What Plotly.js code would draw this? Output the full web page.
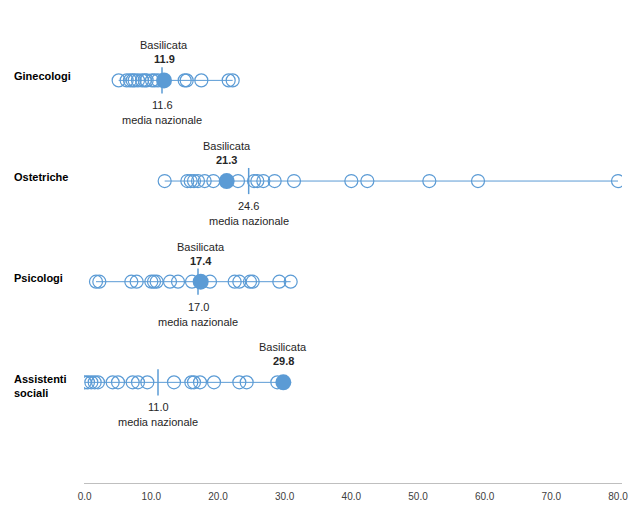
<!DOCTYPE html>
<html>
<head>
<meta charset="utf-8">
<script src="https://cdn.plot.ly/plotly-3.0.1.min.js"></script>
<style>
html,body{margin:0;padding:0;background:#fff;}
#chart{width:638px;height:509px;}
</style>
</head>
<body>
<div id="chart"></div>
<script>
// Categories (top to bottom)
const categories = ["Ginecologi", "Ostetriche", "Psicologi", "Assistenti<br>sociali"];
// Basilicata values
const basilicata = [11.9, 21.3, 17.4, 29.8];
// National averages
const mediaNazionale = [11.6, 24.6, 17.0, 11.0];
// Other regions' values per category
const ginecologi = [5.1, 6.3, 6.8, 7.2, 7.5, 8.0, 8.6, 9.0, 9.3, 10.1, 10.5, 11.0, 15.0, 15.3, 17.5, 21.6, 22.2];
const ostetriche = [12.0, 15.4, 15.9, 16.4, 17.0, 18.0, 19.3, 23.0, 25.4, 25.9, 26.8, 28.5, 31.4, 40.0, 42.4, 51.7, 59.0, 80.0];
const psicologi = [1.7, 2.2, 7.0, 7.8, 10.0, 10.4, 10.8, 12.8, 14.0, 16.1, 18.8, 22.5, 23.2, 24.8, 25.2, 29.2, 30.9];
const assistentiSociali = [0.0, 0.5, 1.0, 1.5, 2.0, 4.2, 5.0, 7.2, 8.0, 9.4, 13.4, 16.0, 16.4, 17.3, 19.4, 23.2, 24.3, 28.9];
const tickVals = [0, 10, 20, 30, 40, 50, 60, 70, 80];

const series = [ginecologi, ostetriche, psicologi, assistentiSociali];
const blue = "#5B9BD5";
const font = "Liberation Sans, Arial, sans-serif";
const nRows = categories.length;
const rowY = categories.map((c, i) => nRows - i);

const traces = [];
const shapes = [];
const annotations = [];

series.forEach((vals, i) => {
  const all = vals.concat([basilicata[i]]).sort((a, b) => a - b);
  traces.push({
    type: "scatter", mode: "lines+markers",
    x: all, y: all.map(() => rowY[i]),
    line: {color: blue, width: 1},
    marker: {symbol: "circle-open", size: 13, color: blue, line: {width: 1.2, color: blue}},
    hoverinfo: "skip", showlegend: false
  });
  shapes.push({
    type: "line", xref: "x", yref: "y",
    x0: mediaNazionale[i], x1: mediaNazionale[i],
    y0: rowY[i] - 0.13, y1: rowY[i] + 0.13,
    line: {color: blue, width: 1.5}
  });
  annotations.push(
    {x: basilicata[i], y: rowY[i], xref: "x", yref: "y", text: "Basilicata", showarrow: false, yshift: 35, font: {family: font, size: 11, color: "#262626"}},
    {x: basilicata[i], y: rowY[i], xref: "x", yref: "y", text: "<b>" + basilicata[i].toFixed(1) + "</b>", showarrow: false, yshift: 21, font: {family: font, size: 11, color: "#262626"}},
    {x: mediaNazionale[i], y: rowY[i], xref: "x", yref: "y", text: mediaNazionale[i].toFixed(1), showarrow: false, yshift: -25, font: {family: font, size: 11, color: "#262626"}},
    {x: mediaNazionale[i], y: rowY[i], xref: "x", yref: "y", text: "media nazionale", showarrow: false, yshift: -40, font: {family: font, size: 11, color: "#262626"}},
    {x: -0.133, y: rowY[i], xref: "paper", yref: "y", xanchor: "left", align: "left", text: "<b>" + categories[i] + "</b>", showarrow: false, yshift: categories[i].includes("<br>") ? -4 : 4, font: {family: font, size: 11, color: "#000"}}
  );
});

traces.push({
  type: "scatter", mode: "markers",
  x: basilicata, y: rowY,
  marker: {symbol: "circle", size: 16, color: blue},
  hoverinfo: "skip", showlegend: false
});

const layout = {
  width: 638, height: 509,
  margin: {l: 84, r: 16, t: 20, b: 26},
  paper_bgcolor: "#fff", plot_bgcolor: "#fff",
  showlegend: false,
  xaxis: {
    range: [-0.1, 80.6], tickvals: tickVals, tickformat: ".1f",
    showgrid: false, zeroline: false, showline: true, linecolor: "#BFBFBF", linewidth: 1,
    ticks: "", ticklabelstandoff: 4, tickfont: {family: font, size: 10, color: "#404040"}, fixedrange: true
  },
  yaxis: {
    range: [0, 4.6], showgrid: false, zeroline: false, showline: false,
    showticklabels: false, ticks: "", fixedrange: true
  },
  shapes: shapes,
  annotations: annotations
};

Plotly.newPlot("chart", traces, layout, {displayModeBar: false, staticPlot: true});
</script>
</body>
</html>
